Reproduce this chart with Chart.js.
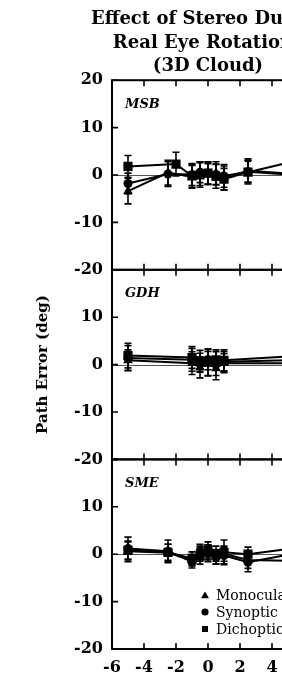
<!DOCTYPE html>
<html>
<head>
<meta charset="utf-8">
<script src="https://cdn.jsdelivr.net/npm/chart.js@4.4.1/dist/chart.umd.min.js"></script>
<style>
  html, body { margin: 0; padding: 0; background: #fff; overflow: hidden; }
  #wrap { position: relative; width: 330px; height: 680px; }
</style>
</head>
<body>
<div id="wrap"><canvas id="c"></canvas></div>
<script>
// ---------- data ----------
const TITLE_LINES = ['Effect of Stereo During', 'Real Eye Rotations', '(3D Cloud)'];
const Y_TITLE = 'Path Error (deg)';
const PANELS = ['MSB', 'GDH', 'SME'];
const SERIES = ['Monocular', 'Synoptic', 'Dichoptic'];
const X_TICKS = [-6, -4, -2, 0, 2, 4, 6];
const Y_TICKS = [-20, -10, 0, 10, 20];

// MSB
const msbX      = [-5, -2.5, -1, -0.5, 0, 0.5, 1, 2.5, 5];
const msbDichX  = [-5, -2, -1, -0.5, 0, 0.5, 1, 2.5, 5];
const msbMono   = [-3.4, 0.5, -0.4, 0.3, 0.2, 0.4, -0.6, 0.9, 0.3];
const msbMonoE  = [2.7, 2.6, 2.4, 2.5, 2.2, 2.4, 2.5, 2.5, 2.3];
const msbSyn    = [-1.8, 0.2, 0.1, 0.6, 0.4, 0.1, -0.2, 0.7, 0.1];
const msbSynE   = [2.2, 2.6, 2.3, 2.2, 2.4, 2.2, 2.4, 2.2, 2.3];
const msbDich   = [1.8, 2.3, -0.2, 0.0, 0.4, -0.3, -0.9, 0.6, 2.6];
const msbDichE  = [2.3, 2.5, 2.4, 2.6, 2.3, 2.5, 2.3, 2.5, 2.4];

// GDH
const gdhX      = [-5, -1, -0.5, 0, 0.5, 1, 5];
const gdhMono   = [0.9, 0.3, -0.6, 0.2, -0.8, 0.3, 0.3];
const gdhMonoE  = [2.2, 2.4, 2.2, 2.6, 2.4, 2.0, 2.0];
const gdhSyn    = [1.4, 1.0, 0.4, 1.1, 0.2, 0.6, 0.9];
const gdhSynE   = [2.6, 2.4, 2.0, 2.2, 2.5, 2.1, 2.0];
const gdhDich   = [1.9, 1.5, 0.8, 0.5, 1.0, 0.9, 1.7];
const gdhDichE  = [2.6, 2.3, 2.2, 2.8, 2.1, 2.2, 2.0];

// SME
const smeX      = [-5, -2.5, -1, -0.5, 0, 0.5, 1, 2.5, 5];
const smeMono   = [0.6, 0.3, -1.3, 0.1, 0.4, -0.5, 0.1, -1.2, -1.4];
const smeMonoE  = [2.2, 1.8, 1.2, 1.6, 1.6, 1.5, 1.6, 1.8, 1.6];
const smeSyn    = [1.2, 0.6, -1.6, 0.6, 0.2, -0.7, -0.3, -1.7, -0.1];
const smeSynE   = [2.4, 2.4, 1.3, 1.5, 1.8, 1.4, 1.7, 2.0, 1.6];
const smeDich   = [0.8, 0.4, -0.9, -0.4, 0.9, 0.1, 0.4, 0.0, 1.1];
const smeDichE  = [1.8, 1.7, 1.4, 1.7, 1.7, 1.6, 2.6, 1.5, 1.6];

// ---------- build ----------
const SERIF = 'DejaVu Serif';
const AXES = ['yMSB', 'yGDH', 'ySME'];
const STYLES = [
  { pointStyle: 'triangle', pointRadius: 5.6 },
  { pointStyle: 'circle', pointRadius: 4.5 },
  { pointStyle: 'rect', pointRadius: 6.5 }
];
const panelData = [
  [[msbX, msbMono, msbMonoE], [msbX, msbSyn, msbSynE], [msbDichX, msbDich, msbDichE]],
  [[gdhX, gdhMono, gdhMonoE], [gdhX, gdhSyn, gdhSynE], [gdhX, gdhDich, gdhDichE]],
  [[smeX, smeMono, smeMonoE], [smeX, smeSyn, smeSynE], [smeX, smeDich, smeDichE]]
];
const datasets = [];
panelData.forEach((series, p) => {
  series.forEach(([xs, ys, es], s) => {
    datasets.push({
      label: PANELS[p] + ' ' + SERIES[s],
      yAxisID: AXES[p],
      data: xs.map((x, i) => ({ x: x, y: ys[i] })),
      errors: es,
      showLine: true,
      borderColor: '#000',
      backgroundColor: '#000',
      borderWidth: 2,
      pointStyle: STYLES[s].pointStyle,
      pointRadius: STYLES[s].pointRadius,
      pointBorderWidth: 0,
      pointBackgroundColor: '#000'
    });
  });
});

function yAxis(idx) {
  return {
    type: 'linear',
    position: 'left',
    stack: 'panels',
    stackWeight: 1,
    offset: false,
    min: -20, max: 20,
    afterBuildTicks: s => { s.ticks = Y_TICKS.map(v => ({ value: v })); },
    afterFit: s => { s.width = 82; },
    ticks: {
      autoSkip: false,
      padding: 9,
      color: '#000',
      font: { family: SERIF, size: 16, weight: 'bold' },
      callback: v => (idx > 0 && v === 20) ? '' : String(v)
    },
    grid: { display: false, drawTicks: false },
    border: { display: false },
    title: {
      display: idx === 1,
      text: Y_TITLE,
      color: '#000',
      font: { family: SERIF, size: 15, weight: 'bold' },
      padding: { top: 4, bottom: 4 }
    }
  };
}

function drawMarker(ctx, style, x, y, r) {
  ctx.beginPath();
  if (style === 'triangle') {
    ctx.moveTo(x, y - r);
    ctx.lineTo(x + r * 0.866, y + r * 0.5);
    ctx.lineTo(x - r * 0.866, y + r * 0.5);
    ctx.closePath();
  } else if (style === 'circle') {
    ctx.arc(x, y, r, 0, Math.PI * 2);
  } else {
    ctx.rect(x - r, y - r, 2 * r, 2 * r);
  }
  ctx.fill();
}

const panelPlugin = {
  id: 'panels',
  afterLayout(chart) {
    // centre the (wider than plot) title over the plot area, as in the figure
    const t = chart.titleBlock;
    if (t) {
      const c = (chart.chartArea.left + chart.chartArea.right) / 2;
      t.left = c - 170; t.right = c + 170; t.width = 340;
    }
  },
  beforeDatasetsDraw(chart) {
    const { ctx, chartArea: a, scales } = chart;
    ctx.save();
    // zero lines
    ctx.strokeStyle = '#555';
    ctx.lineWidth = 1;
    AXES.forEach(id => {
      const y0 = Math.round(scales[id].getPixelForValue(0)) + 0.5;
      ctx.beginPath(); ctx.moveTo(a.left, y0); ctx.lineTo(a.right, y0); ctx.stroke();
    });
    // error bars
    ctx.strokeStyle = '#000';
    ctx.lineWidth = 1.6;
    chart.data.datasets.forEach((ds, i) => {
      const meta = chart.getDatasetMeta(i);
      const ys = scales[ds.yAxisID];
      meta.data.forEach((pt, j) => {
        const v = ds.data[j].y, e = ds.errors[j];
        const yt = ys.getPixelForValue(v + e), yb = ys.getPixelForValue(v - e);
        const x = pt.x;
        ctx.beginPath();
        ctx.moveTo(x, yt); ctx.lineTo(x, yb);
        ctx.moveTo(x - 3.5, yt); ctx.lineTo(x + 3.5, yt);
        ctx.moveTo(x - 3.5, yb); ctx.lineTo(x + 3.5, yb);
        ctx.stroke();
      });
    });
    ctx.restore();
  },
  afterDatasetsDraw(chart) {
    const { ctx, chartArea: a, scales } = chart;
    const xs = scales.x;
    ctx.save();
    ctx.strokeStyle = '#000';
    ctx.fillStyle = '#000';
    AXES.forEach((id, p) => {
      const ys = scales[id];
      const top = ys.top, bot = ys.bottom;
      // border
      ctx.lineWidth = 2;
      ctx.strokeRect(a.left, top, a.right - a.left, bot - top);
      // x ticks (inward, top and bottom)
      ctx.lineWidth = 1.6;
      X_TICKS.forEach(v => {
        const px = xs.getPixelForValue(v);
        ctx.beginPath();
        ctx.moveTo(px, top); ctx.lineTo(px, top + 6);
        ctx.moveTo(px, bot); ctx.lineTo(px, bot - 6);
        ctx.stroke();
      });
      // y ticks (inward, left and right)
      Y_TICKS.forEach(v => {
        const py = ys.getPixelForValue(v);
        ctx.beginPath();
        ctx.moveTo(a.left, py); ctx.lineTo(a.left + 6, py);
        ctx.moveTo(a.right, py); ctx.lineTo(a.right - 6, py);
        ctx.stroke();
      });
      // panel label
      ctx.font = 'italic bold 13px "' + SERIF + '"';
      ctx.textAlign = 'left';
      ctx.textBaseline = 'middle';
      ctx.fillText(PANELS[p], a.left + 13, top + 24);
    });
    // legend in bottom panel
    const ys = scales[AXES[2]];
    const lx = a.left + 93;
    ctx.font = '14px "' + SERIF + '"';
    ctx.textAlign = 'left';
    ctx.textBaseline = 'middle';
    SERIES.forEach((name, s) => {
      const ly = ys.bottom - 54 + s * 17;
      const r = s === 0 ? 4.6 : (s === 1 ? 3.6 : 3.0);
      drawMarker(ctx, STYLES[s].pointStyle, lx, ly + (s === 0 ? 1 : 0), r);
      ctx.fillText(name, lx + 11, ly + 1);
    });
    ctx.restore();
  }
};

new Chart(document.getElementById('c'), {
  type: 'scatter',
  data: { datasets: datasets },
  options: {
    responsive: true,
    maintainAspectRatio: false,
    animation: false,
    devicePixelRatio: 1,
    layout: { padding: { left: 30, right: 26, top: 2, bottom: 0 } },
    plugins: {
      legend: { display: false },
      tooltip: { enabled: false },
      title: {
        display: true,
        text: TITLE_LINES,
        fullSize: false,
        color: '#000',
        font: { family: SERIF, size: 18, weight: 'bold', lineHeight: 1.3 },
        padding: { top: 6, bottom: 2 }
      }
    },
    scales: {
      x: {
        type: 'linear',
        min: -6, max: 6,
        afterBuildTicks: s => { s.ticks = X_TICKS.map(v => ({ value: v })); },
        afterFit: s => { s.height = 31; },
        ticks: {
          autoSkip: false,
          padding: 9,
          color: '#000',
          font: { family: SERIF, size: 16, weight: 'bold' }
        },
        grid: { display: false, drawTicks: false },
        border: { display: false }
      },
      ySME: yAxis(2),
      yGDH: yAxis(1),
      yMSB: yAxis(0)
    }
  },
  plugins: [panelPlugin]
});
</script>
</body>
</html>
